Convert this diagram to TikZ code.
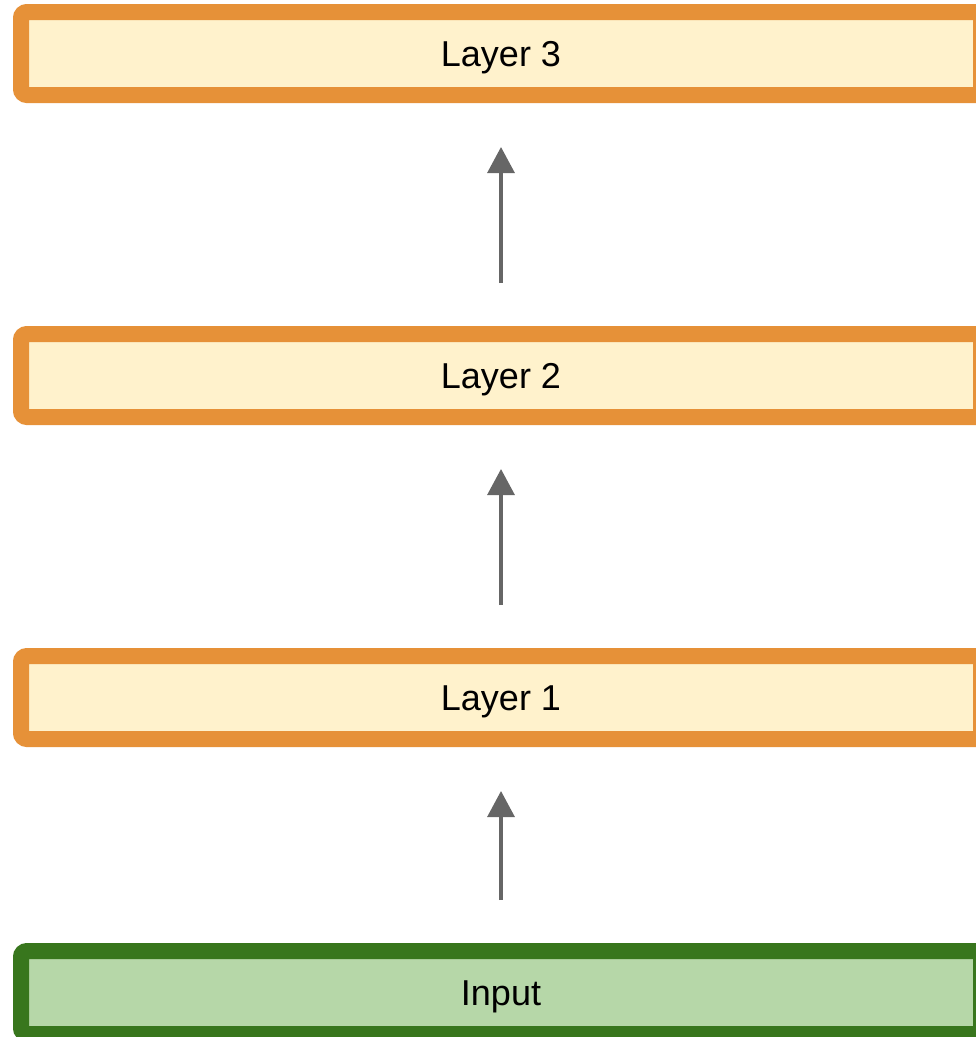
\documentclass[tikz,border=0pt]{standalone}
\usepackage{fontspec}
\setmainfont{Liberation Sans}
\usetikzlibrary{arrows.meta}
\definecolor{orstroke}{HTML}{E69138}
\definecolor{orfill}{HTML}{FFF2CC}
\definecolor{grstroke}{HTML}{38761D}
\definecolor{grfill}{HTML}{B6D7A8}
\definecolor{arrgray}{HTML}{666666}
\begin{document}
\begin{tikzpicture}[x=1pt,y=-1pt,
  layerbox/.style={draw=orstroke,fill=orfill,line width=16pt,rounded corners=6pt,
    minimum width=960pt,minimum height=83pt,inner sep=0pt,text height=26pt,text depth=0pt,
    font=\fontsize{36}{42}\selectfont},
  inputbox/.style={layerbox,draw=grstroke,fill=grfill},
  uparrow/.style={draw=arrgray,line width=3.2pt,-{Triangle[length=26pt,width=27pt]}}]
\useasboundingbox (0,0) rectangle (976,1037);
\node[layerbox] (l3) at (501,53.5) {Layer 3};
\node[layerbox] (l2) at (501,375.5) {Layer 2};
\node[layerbox] (l1) at (501,697.5) {Layer 1};
\node[inputbox] (in) at (501,992.5) {Input};
\coordinate (a3s) at (501,283);
\coordinate (a3e) at (501,147);
\coordinate (a2s) at (501,605);
\coordinate (a2e) at (501,469);
\coordinate (a1s) at (501,900);
\coordinate (a1e) at (501,791);
\draw[uparrow] (a3s) -- (a3e);
\draw[uparrow] (a2s) -- (a2e);
\draw[uparrow] (a1s) -- (a1e);
\end{tikzpicture}
\end{document}
